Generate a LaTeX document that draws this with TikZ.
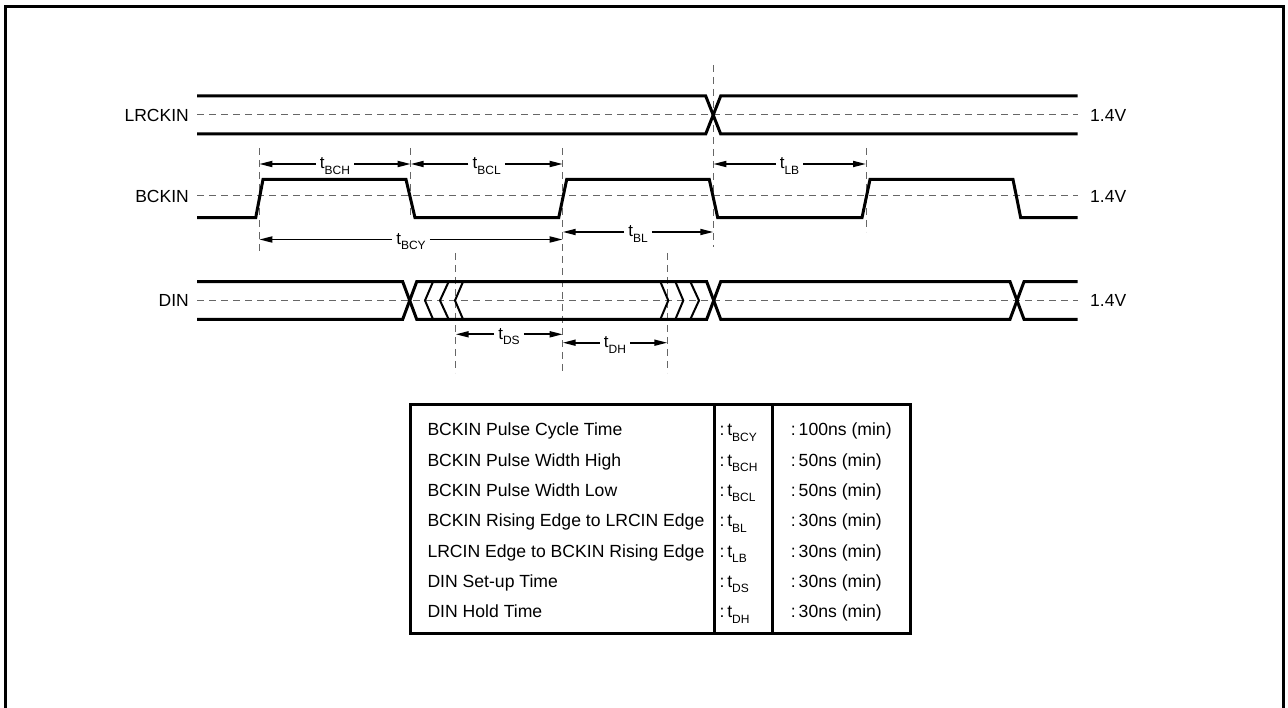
\documentclass[tikz,border=0pt]{standalone}
\usepackage{fontspec}
\setmainfont{Liberation Sans}
\usetikzlibrary{arrows.meta}
\newcommand\tsb[1]{t\raisebox{-5.5pt}{\fontsize{12}{12}\selectfont #1}}
\begin{document}
\begin{tikzpicture}[x=1pt,y=-1pt,
  sig/.style={line width=3pt, line join=miter},
  chev/.style={line width=2pt},
  guide/.style={draw=black!60, line width=1pt, dash pattern=on 7pt off 5pt},
  dim/.style={line width=1.7pt, -{Triangle[length=13pt,width=6pt]}},
  siglabel/.style={font=\fontsize{17.5}{20}\selectfont, inner sep=0pt},
  tlab/.style={font=\fontsize{17}{18}\selectfont, inner sep=4pt, anchor=base},
  cell/.style={font=\fontsize{17.6}{20}\selectfont, inner sep=0pt, anchor=base west},
  frameline/.style={line width=3pt},
  tableline/.style={line width=3pt},
]
\useasboundingbox (0,0) rectangle (1288,708);
\draw[frameline] (5.5,720) -- (5.5,6.5) -- (1283.5,6.5) -- (1283.5,720);

% signal labels
\node[siglabel, anchor=east] (lrck) at (189,115) {LRCKIN};
\node[siglabel, anchor=east] (bck) at (189,196) {BCKIN};
\node[siglabel, anchor=east] (din) at (189,300.5) {DIN};
\node[siglabel, anchor=west] (v1) at (1090,115) {1.4V};
\node[siglabel, anchor=west] (v2) at (1090,196) {1.4V};
\node[siglabel, anchor=west] (v3) at (1090,300.5) {1.4V};

% threshold lines
\draw[guide] (197,115) -- (1078,115);
\draw[guide] (197,196) -- (1078,196);
\draw[guide] (197,300.5) -- (1078,300.5);

% vertical guides
\draw[guide] (259.3,148) -- (259.3,252);
\draw[guide] (410.7,148) -- (410.7,218);
\draw[guide] (562.7,148) -- (562.7,372);
\draw[guide] (713.3,65) -- (713.3,247);
\draw[guide] (866,148) -- (866,232);
\draw[guide] (455.7,253) -- (455.7,373);
\draw[guide] (667.3,253) -- (667.3,373);

% LRCKIN
\draw[sig] (197,96) -- (705.7,96) -- (720.7,134) -- (1077.7,134);
\draw[sig] (197,134) -- (705.7,134) -- (720.7,96) -- (1077.7,96);

% BCKIN
\draw[sig] (197,217.7) -- (255.7,217.7) -- (263,179.5) -- (406,179.5) -- (415,217.7)
  -- (558.7,217.7) -- (566.7,179.5) -- (709.3,179.5) -- (717.7,217.7)
  -- (862,217.7) -- (870,179.5) -- (1013,179.5) -- (1020.7,217.7) -- (1077.7,217.7);

% DIN
\draw[sig] (197,281.7) -- (402.7,281.7) -- (416.7,319.3) -- (706.7,319.3) -- (720.7,281.7)
  -- (1010,281.7) -- (1024,319.3) -- (1077.7,319.3);
\draw[sig] (197,319.3) -- (402.7,319.3) -- (416.7,281.7) -- (706.7,281.7) -- (720.7,319.3)
  -- (1010,319.3) -- (1024,281.7) -- (1077.7,281.7);
\foreach \a/\b in {432.7/425, 448.3/440, 462.7/455, 660.7/668.3, 675.7/683.3, 690.7/699}
  \draw[chev] (\a,282.5) -- (\b,300.5) -- (\a,318.5);

% dimension end points
\coordinate (bchL) at (259.3,164);  \coordinate (bchR) at (410.7,164);
\coordinate (bclL) at (410.7,164);  \coordinate (bclR) at (562.7,164);
\coordinate (lbL) at (713.3,164);   \coordinate (lbR) at (866,164);
\coordinate (bcyL) at (259.3,239.5); \coordinate (bcyR) at (562.7,239.5);
\coordinate (blL) at (562.7,232);   \coordinate (blR) at (713.3,232);
\coordinate (dsL) at (455.7,334.3); \coordinate (dsR) at (562.7,334.3);
\coordinate (dhL) at (562.7,342.7); \coordinate (dhR) at (667.3,342.7);

\node[tlab] (tbch) at (335,169) {\tsb{BCH}};
\node[tlab] (tbcl) at (486.7,169) {\tsb{BCL}};
\node[tlab] (tlb) at (789.5,169) {\tsb{LB}};
\node[tlab] (tbcy) at (411,244.5) {\tsb{BCY}};
\node[tlab] (tbl) at (638,237) {\tsb{BL}};
\node[tlab] (tds) at (509,339.3) {\tsb{DS}};
\node[tlab] (tdh) at (615,347.7) {\tsb{DH}};

\foreach \n/\c in {tbch/bch, tbcl/bcl, tlb/lb, tbcy/bcy, tbl/bl, tds/ds, tdh/dh} {
  \draw[dim] (\n.west |- \c L) -- (\c L);
  \draw[dim] (\n.east |- \c R) -- (\c R);
}

% table
\draw[tableline] (410,404.3) rectangle (910,633.3);
\draw[tableline] (714,404.3) -- (714,633.3);
\draw[tableline] (772.7,404.3) -- (772.7,633.3);

\node[cell] (r1a) at (427.3,435.7) {BCKIN Pulse Cycle Time};
\node[cell] (r2a) at (427.3,466.0) {BCKIN Pulse Width High};
\node[cell] (r3a) at (427.3,496.4) {BCKIN Pulse Width Low};
\node[cell] (r4a) at (427.3,526.7) {BCKIN Rising Edge to LRCIN Edge};
\node[cell] (r5a) at (427.3,557.0) {LRCIN Edge to BCKIN Rising Edge};
\node[cell] (r6a) at (427.3,587.4) {DIN Set-up Time};
\node[cell] (r7a) at (427.3,617.7) {DIN Hold Time};

\node[cell] (r1b) at (719.3,435.7) {:\,\tsb{BCY}};
\node[cell] (r2b) at (719.3,466.0) {:\,\tsb{BCH}};
\node[cell] (r3b) at (719.3,496.4) {:\,\tsb{BCL}};
\node[cell] (r4b) at (719.3,526.7) {:\,\tsb{BL}};
\node[cell] (r5b) at (719.3,557.0) {:\,\tsb{LB}};
\node[cell] (r6b) at (719.3,587.4) {:\,\tsb{DS}};
\node[cell] (r7b) at (719.3,617.7) {:\,\tsb{DH}};

\node[cell] (r1c) at (790.7,435.7) {:\,100ns (min)};
\node[cell] (r2c) at (790.7,466.0) {:\,50ns (min)};
\node[cell] (r3c) at (790.7,496.4) {:\,50ns (min)};
\node[cell] (r4c) at (790.7,526.7) {:\,30ns (min)};
\node[cell] (r5c) at (790.7,557.0) {:\,30ns (min)};
\node[cell] (r6c) at (790.7,587.4) {:\,30ns (min)};
\node[cell] (r7c) at (790.7,617.7) {:\,30ns (min)};
\end{tikzpicture}
\end{document}
